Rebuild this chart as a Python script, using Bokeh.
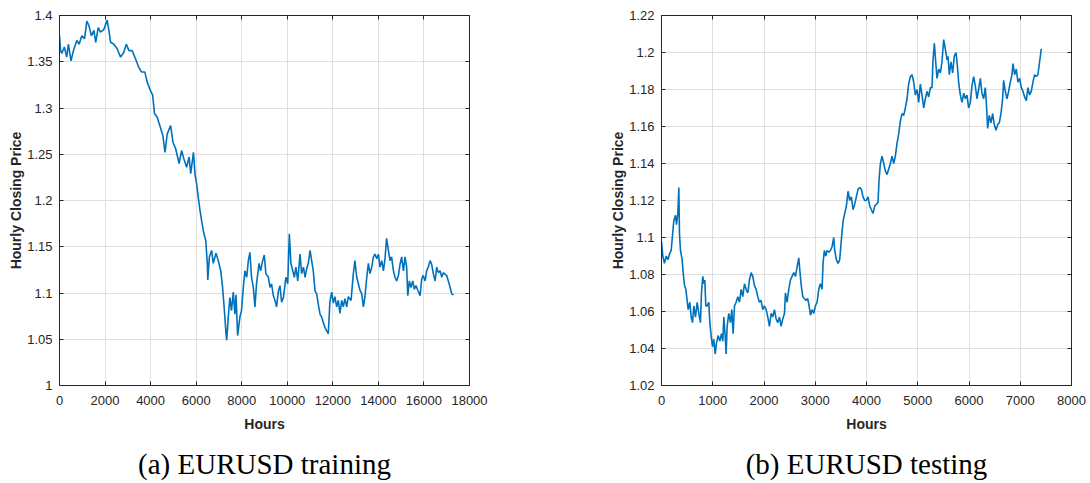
from bokeh.plotting import figure
from bokeh.models import LinearAxis, FixedTicker, Title
from bokeh.layouts import row
from bokeh.embed import file_html
from bokeh.resources import INLINE

# ---------------- data: (a) EURUSD training ----------------
train_hours = [0, 50, 100, 212, 316, 390, 507, 610, 760, 860, 980, 1100, 1200, 1290, 1400, 1510, 1590,
               1700, 1800, 1950, 2090, 2170, 2240, 2390, 2530, 2680, 2820, 2930, 3050, 3190, 3340, 3480,
               3600, 3745, 3850, 3990, 4090, 4170, 4290, 4430, 4540, 4630, 4730, 4880, 4980, 5100, 5250,
               5360, 5460, 5580, 5690, 5760, 5880, 5950, 6020, 6090, 6170, 6240, 6340, 6420, 6490, 6510,
               6580, 6680, 6750, 6870, 6970, 7080, 7160, 7240, 7310, 7340, 7410, 7480, 7550, 7630, 7700,
               7750, 7820, 7920, 7990, 8070, 8140, 8220, 8290, 8360, 8430, 8510, 8580, 8650, 8760, 8830,
               8920, 8990, 9060, 9170, 9240, 9310, 9390, 9460, 9530, 9610, 9680, 9750, 9830, 9940, 10020,
               10090, 10160, 10240, 10310, 10380, 10460, 10560, 10630, 10710, 10780, 10850, 10930, 11000,
               11070, 11140, 11220, 11290, 11360, 11440, 11510, 11580, 11650, 11730, 11800, 11870, 11950,
               12020, 12090, 12170, 12240, 12310, 12390, 12460, 12530, 12610, 12680, 12800, 12900, 12970,
               13050, 13120, 13190, 13270, 13340, 13410, 13490, 13560, 13630, 13710, 13780, 13850, 13930,
               14000, 14070, 14150, 14220, 14290, 14360, 14440, 14510, 14580, 14660, 14730, 14800, 14880,
               14950, 15020, 15100, 15170, 15240, 15290, 15360, 15430, 15510, 15580, 15650, 15730, 15830,
               15900, 15970, 16050, 16120, 16190, 16270, 16340, 16410, 16490, 16560, 16630, 16710, 16780,
               16850, 16930, 17000, 17070, 17150, 17220, 17300]
train_price = [1.378, 1.362, 1.359, 1.366, 1.355, 1.369, 1.351, 1.362, 1.373, 1.369, 1.378, 1.375, 1.394,
               1.389, 1.378, 1.384, 1.371, 1.387, 1.382, 1.385, 1.395, 1.384, 1.371, 1.369, 1.364, 1.355,
               1.360, 1.369, 1.362, 1.362, 1.353, 1.344, 1.339, 1.339, 1.328, 1.319, 1.314, 1.294, 1.290,
               1.279, 1.270, 1.252, 1.272, 1.281, 1.263, 1.256, 1.240, 1.254, 1.245, 1.236, 1.247, 1.229,
               1.252, 1.228, 1.218, 1.204, 1.189, 1.178, 1.164, 1.157, 1.132, 1.114, 1.139, 1.146, 1.132,
               1.143, 1.135, 1.124, 1.106, 1.081, 1.056, 1.049, 1.074, 1.095, 1.081, 1.101, 1.077, 1.098,
               1.054, 1.074, 1.081, 1.106, 1.124, 1.117, 1.135, 1.144, 1.117, 1.106, 1.085, 1.110, 1.132,
               1.124, 1.135, 1.141, 1.121, 1.117, 1.106, 1.110, 1.097, 1.092, 1.085, 1.102, 1.108, 1.090,
               1.095, 1.117, 1.110, 1.164, 1.132, 1.124, 1.117, 1.128, 1.113, 1.142, 1.121, 1.128, 1.117,
               1.126, 1.133, 1.146, 1.135, 1.124, 1.102, 1.099, 1.088, 1.077, 1.074, 1.068, 1.063, 1.059,
               1.056, 1.090, 1.101, 1.089, 1.096, 1.085, 1.092, 1.078, 1.092, 1.085, 1.094, 1.085, 1.096,
               1.092, 1.121, 1.135, 1.117, 1.110, 1.103, 1.099, 1.085, 1.096, 1.117, 1.132, 1.121, 1.128,
               1.139, 1.142, 1.137, 1.142, 1.128, 1.135, 1.124, 1.137, 1.159, 1.146, 1.135, 1.139, 1.124,
               1.117, 1.113, 1.119, 1.131, 1.139, 1.124, 1.139, 1.128, 1.097, 1.113, 1.106, 1.113, 1.104,
               1.108, 1.103, 1.097, 1.115, 1.119, 1.113, 1.124, 1.128, 1.135, 1.131, 1.121, 1.113, 1.128,
               1.122, 1.124, 1.117, 1.122, 1.120, 1.119, 1.113, 1.106, 1.099, 1.098]

# ---------------- data: (b) EURUSD testing ----------------
test_hours = [0, 26, 58, 91, 124, 156, 189, 208, 240, 273, 293, 319, 338, 351, 370, 403, 423, 449, 475,
              500, 520, 553, 579, 605, 631, 663, 696, 728, 760, 780, 806, 826, 845, 865, 890, 923, 943,
              969, 995, 1020, 1047, 1073, 1105, 1138, 1170, 1196, 1216, 1242, 1261, 1281, 1313, 1346, 1372,
              1398, 1424, 1456, 1489, 1521, 1554, 1586, 1619, 1651, 1684, 1716, 1749, 1781, 1814, 1846,
              1879, 1911, 1944, 1976, 2009, 2041, 2074, 2106, 2139, 2171, 2204, 2236, 2269, 2301, 2334,
              2366, 2400, 2418, 2451, 2483, 2516, 2548, 2581, 2613, 2646, 2678, 2697, 2723, 2756, 2788,
              2821, 2853, 2880, 2906, 2938, 2971, 3003, 3036, 3068, 3101, 3133, 3152, 3178, 3205, 3231,
              3263, 3296, 3328, 3361, 3380, 3412, 3445, 3477, 3510, 3543, 3575, 3607, 3640, 3672, 3705,
              3737, 3770, 3802, 3835, 3867, 3900, 3932, 3965, 3997, 4030, 4063, 4095, 4128, 4160, 4193,
              4225, 4245, 4271, 4303, 4336, 4368, 4401, 4433, 4466, 4498, 4531, 4563, 4596, 4628, 4661,
              4693, 4726, 4758, 4791, 4823, 4856, 4888, 4921, 4953, 4986, 5018, 5050, 5083, 5116, 5148,
              5181, 5213, 5246, 5278, 5298, 5324, 5350, 5376, 5408, 5441, 5473, 5506, 5538, 5571, 5590,
              5616, 5648, 5681, 5713, 5746, 5766, 5798, 5831, 5863, 5896, 5928, 5961, 5993, 6026, 6058,
              6091, 6123, 6156, 6188, 6221, 6253, 6286, 6318, 6338, 6364, 6396, 6429, 6461, 6494, 6526,
              6559, 6591, 6624, 6656, 6676, 6708, 6741, 6773, 6806, 6838, 6858, 6890, 6923, 6955, 6988,
              7020, 7053, 7085, 7118, 7150, 7183, 7215, 7248, 7280, 7313, 7345, 7378, 7410]
test_price = [1.098, 1.090, 1.086, 1.090, 1.088, 1.091, 1.093, 1.099, 1.109, 1.112, 1.107, 1.113, 1.127,
              1.102, 1.093, 1.088, 1.081, 1.074, 1.072, 1.066, 1.061, 1.065, 1.057, 1.054, 1.063, 1.057,
              1.065, 1.059, 1.054, 1.070, 1.079, 1.075, 1.077, 1.063, 1.063, 1.065, 1.054, 1.047, 1.041,
              1.045, 1.037, 1.043, 1.047, 1.044, 1.048, 1.044, 1.057, 1.047, 1.037, 1.052, 1.059, 1.054,
              1.061, 1.048, 1.063, 1.065, 1.068, 1.065, 1.072, 1.068, 1.075, 1.072, 1.070, 1.077, 1.081,
              1.079, 1.074, 1.072, 1.068, 1.065, 1.066, 1.061, 1.063, 1.061, 1.057, 1.052, 1.059, 1.057,
              1.061, 1.056, 1.054, 1.057, 1.052, 1.056, 1.059, 1.070, 1.065, 1.072, 1.077, 1.079, 1.081,
              1.079, 1.084, 1.089, 1.083, 1.075, 1.068, 1.067, 1.066, 1.067, 1.063, 1.058, 1.061, 1.059,
              1.063, 1.065, 1.072, 1.075, 1.072, 1.086, 1.093, 1.090, 1.093, 1.092, 1.093, 1.095, 1.100,
              1.093, 1.088, 1.086, 1.088, 1.099, 1.109, 1.113, 1.117, 1.125, 1.120, 1.122, 1.115, 1.118,
              1.122, 1.126, 1.127, 1.126, 1.122, 1.120, 1.120, 1.122, 1.117, 1.115, 1.113, 1.117, 1.118,
              1.119, 1.131, 1.140, 1.144, 1.140, 1.136, 1.134, 1.137, 1.140, 1.144, 1.140, 1.144, 1.151,
              1.156, 1.163, 1.167, 1.166, 1.170, 1.175, 1.183, 1.187, 1.188, 1.184, 1.177, 1.180, 1.173,
              1.183, 1.177, 1.170, 1.175, 1.179, 1.176, 1.181, 1.181, 1.196, 1.205, 1.195, 1.186, 1.191,
              1.189, 1.195, 1.207, 1.202, 1.196, 1.198, 1.188, 1.195, 1.189, 1.198, 1.200, 1.195, 1.184,
              1.177, 1.173, 1.178, 1.175, 1.177, 1.170, 1.173, 1.182, 1.187, 1.182, 1.175, 1.180, 1.186,
              1.178, 1.175, 1.181, 1.173, 1.159, 1.166, 1.162, 1.167, 1.161, 1.158, 1.161, 1.162, 1.167,
              1.175, 1.185, 1.179, 1.175, 1.179, 1.184, 1.188, 1.194, 1.188, 1.191, 1.184, 1.186, 1.181,
              1.179, 1.176, 1.174, 1.181, 1.177, 1.179, 1.184, 1.188, 1.187, 1.188, 1.195, 1.202]

# ---------------- ticks ----------------
a_xticks = [0, 2000, 4000, 6000, 8000, 10000, 12000, 14000, 16000, 18000]
a_yticks = [1.0, 1.05, 1.1, 1.15, 1.2, 1.25, 1.3, 1.35, 1.4]
a_ylabels = ["1", "1.05", "1.1", "1.15", "1.2", "1.25", "1.3", "1.35", "1.4"]
b_xticks = [0, 1000, 2000, 3000, 4000, 5000, 6000, 7000, 8000]
b_yticks = [1.02, 1.04, 1.06, 1.08, 1.1, 1.12, 1.14, 1.16, 1.18, 1.2, 1.22]
b_ylabels = ["1.02", "1.04", "1.06", "1.08", "1.1", "1.12", "1.14", "1.16", "1.18", "1.2", "1.22"]

captions = ["(a) EURUSD training", "(b) EURUSD testing"]
x_label = "Hours"
y_label = "Hourly Closing Price"

AX = "#262626"
LINE = "#0072BD"
GRID = "#dfdfdf"
SANS = "Liberation Sans"


def make_panel(xs, ys, xr, yr, xticks, yticks, ylabels, caption, bl, br):
    p = figure(frame_width=410, frame_height=370, x_range=xr, y_range=yr,
               output_backend="svg", toolbar_location=None,
               min_border_left=bl, min_border_right=br, min_border_top=15, min_border_bottom=98,
               background_fill_color="white", border_fill_color="white")
    p.line(xs, ys, line_color=LINE, line_width=1.6)
    p.outline_line_color = AX
    p.outline_line_width = 1

    xa = p.xaxis[0]
    ya = p.yaxis[0]
    xa.ticker = FixedTicker(ticks=xticks)
    ya.ticker = FixedTicker(ticks=yticks)
    ya.major_label_overrides = {t: l for t, l in zip(yticks, ylabels)}
    xa.axis_label = x_label
    ya.axis_label = y_label
    for ax in (xa, ya):
        ax.axis_line_color = AX
        ax.major_tick_line_color = AX
        ax.major_tick_in = 4
        ax.major_tick_out = 0
        ax.minor_tick_in = 0
        ax.minor_tick_out = 0
        ax.major_label_text_font = SANS
        ax.major_label_text_font_size = "13px"
        ax.major_label_text_color = AX
        ax.axis_label_text_font = SANS
        ax.axis_label_text_font_size = "14px"
        ax.axis_label_text_font_style = "bold"
        ax.axis_label_text_color = AX
    xa.major_label_standoff = 10
    xa.axis_label_standoff = 8
    ya.major_label_standoff = 7
    ya.axis_label_standoff = 0

    for tk, side in ((xticks, "above"), (yticks, "right")):
        ax = LinearAxis(ticker=FixedTicker(ticks=tk), major_label_text_font_size="0px",
                        major_label_text_color=None,
                        major_label_standoff=0, major_tick_in=4, major_tick_out=0,
                        minor_tick_in=0, minor_tick_out=0, axis_line_color=AX,
                        major_tick_line_color=AX)
        p.add_layout(ax, side)

    p.xgrid.grid_line_color = GRID
    p.ygrid.grid_line_color = GRID
    p.xgrid.ticker = FixedTicker(ticks=xticks)
    p.ygrid.ticker = FixedTicker(ticks=yticks)

    t = Title(text=caption, align="center", text_font="Liberation Serif",
              text_font_size="29px", text_font_style="normal", text_color="black",
              standoff=22)
    p.add_layout(t, "below")
    return p


pa = make_panel(train_hours, train_price, (0, 18000), (1.0, 1.4), a_xticks, a_yticks, a_ylabels,
                captions[0], 59, 76)
pb = make_panel(test_hours, test_price, (0, 8000), (1.02, 1.22), b_xticks, b_yticks, b_ylabels,
                captions[1], 116, 19)

layout = row(pa, pb)
open("out.html", "w").write(file_html(layout, INLINE))
